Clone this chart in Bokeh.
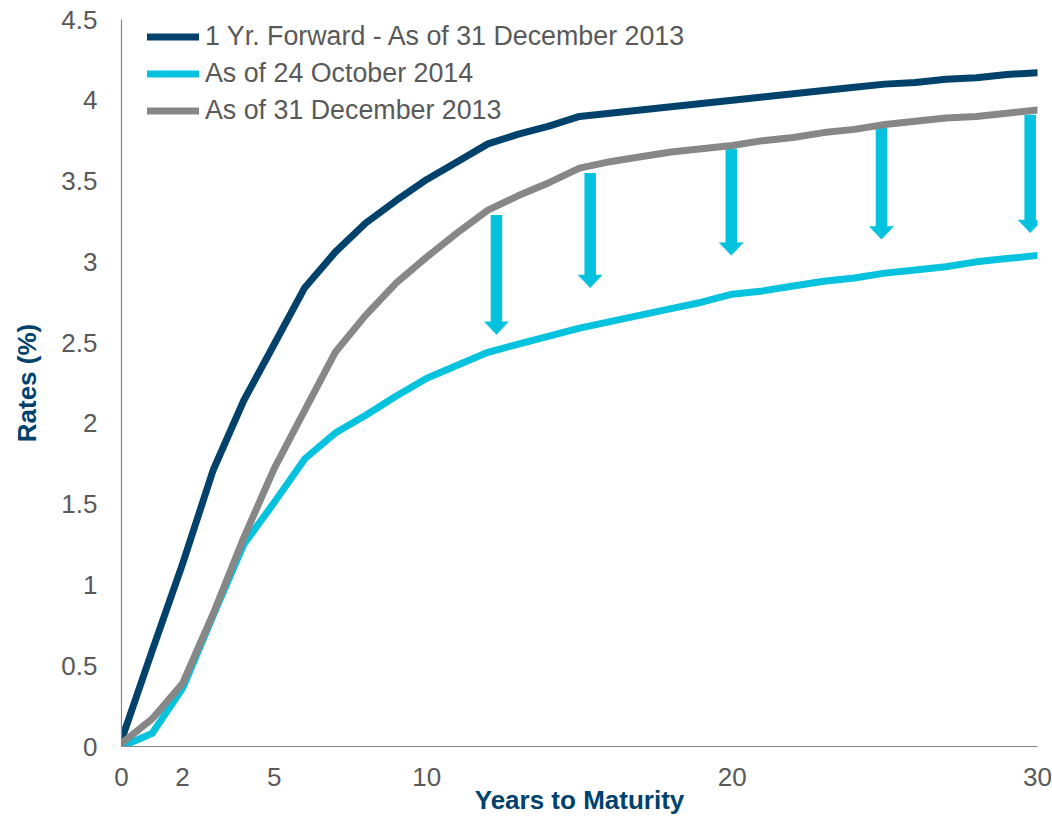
from bokeh.plotting import figure
from bokeh.models import FixedTicker, Legend, LegendItem, ColumnDataSource
from bokeh.embed import file_html
from bokeh.resources import INLINE

# ---- data -------------------------------------------------------------
years = list(range(0, 31))

fwd_2013 = [0.04, 0.59, 1.13, 1.71, 2.14, 2.49, 2.84, 3.06, 3.24, 3.38,
            3.51, 3.62, 3.73, 3.79, 3.84, 3.90, 3.92, 3.94, 3.96, 3.98,
            4.00, 4.02, 4.04, 4.06, 4.08, 4.10, 4.11, 4.13, 4.14, 4.16, 4.17]

oct_2014 = [0.00, 0.08, 0.36, 0.81, 1.25, 1.51, 1.78, 1.94, 2.05, 2.17,
            2.28, 2.36, 2.44, 2.49, 2.54, 2.59, 2.63, 2.67, 2.71, 2.75,
            2.80, 2.82, 2.85, 2.88, 2.90, 2.93, 2.95, 2.97, 3.00, 3.02, 3.04]

dec_2013 = [0.02, 0.17, 0.39, 0.82, 1.29, 1.72, 2.08, 2.44, 2.67, 2.87,
            3.03, 3.18, 3.32, 3.41, 3.49, 3.58, 3.62, 3.65, 3.68, 3.70,
            3.72, 3.75, 3.77, 3.80, 3.82, 3.85, 3.87, 3.89, 3.90, 3.92, 3.94]

series_names = ["1 Yr. Forward - As of 31 December 2013",
                "As of 24 October 2014",
                "As of 31 December 2013"]

# downward arrows: maturity, start (top) and tip (bottom) in rate units
arrow_x = [12.28, 15.35, 19.97, 24.89, 29.76]
arrow_top = [3.29, 3.55, 3.70, 3.83, 3.91]
arrow_tip = [2.55, 2.84, 3.04, 3.14, 3.18]

x_ticks = [0, 2, 5, 10, 20, 30]
y_ticks = [0, 0.5, 1, 1.5, 2, 2.5, 3, 3.5, 4, 4.5]
y_tick_labels = ["0", "0.5", "1", "1.5", "2", "2.5", "3", "3.5", "4", "4.5"]

# ---- styling ----------------------------------------------------------
NAVY = "#00426B"
CYAN = "#05C3DE"
GREY = "#878787"
TEXT = "#595959"
FONT = "Liberation Sans"

X0, X1 = 0, 30
Y0, Y1 = 0, 4.5

p = figure(width=1052, height=817, x_range=(X0, X1), y_range=(Y0, Y1),
           output_backend="svg", toolbar_location=None,
           min_border_left=121, min_border_right=15,
           min_border_top=19, min_border_bottom=71)
p.outline_line_color = None
p.grid.visible = False
p.background_fill_color = "white"
p.border_fill_color = "white"

# axes
for ax in (p.xaxis[0], p.yaxis[0]):
    ax.axis_line_color = "#868686"
    ax.axis_line_width = 1.2
    ax.major_tick_line_color = None
    ax.minor_tick_line_color = None
    ax.major_tick_out = 0
    ax.major_tick_in = 0
    ax.major_label_text_font = FONT
    ax.major_label_text_font_size = "26px"
    ax.major_label_text_color = TEXT
    ax.axis_label_text_font = FONT
    ax.axis_label_text_font_size = "26px"
    ax.axis_label_text_font_style = "bold"
    ax.axis_label_text_color = NAVY

p.xaxis.ticker = FixedTicker(ticks=x_ticks)
p.yaxis.ticker = FixedTicker(ticks=y_ticks)
p.yaxis.major_label_overrides = {t: s for t, s in zip(y_ticks, y_tick_labels)}
p.xaxis.axis_label = "Years to Maturity"
p.yaxis.axis_label = "Rates (%)"
p.xaxis.major_label_standoff = 21
p.xaxis.axis_label_standoff = -4
p.yaxis.major_label_standoff = 24
p.yaxis.axis_label_standoff = 16

# arrows (drawn beneath the curves)
px_per_x = 916.0 / (X1 - X0)
px_per_y = 727.0 / (Y1 - Y0)
head_w = 12.0 / px_per_x      # half width of the head
head_h = 12.7 / px_per_y      # head length
p.segment(x0=arrow_x, y0=arrow_top, x1=arrow_x,
          y1=[t + head_h * 0.9 for t in arrow_tip],
          line_color=CYAN, line_width=11.5, line_cap="butt")
p.patches(xs=[[x - head_w, x + head_w, x] for x in arrow_x],
          ys=[[t + head_h, t + head_h, t] for t in arrow_tip],
          fill_color=CYAN, line_color=CYAN, line_width=0.5)

# curves
src = ColumnDataSource(dict(x=years, fwd=fwd_2013, oct=oct_2014, dec=dec_2013))
r_fwd = p.line("x", "fwd", source=src, line_color=NAVY, line_width=7,
               line_join="round", line_cap="round")
r_oct = p.line("x", "oct", source=src, line_color=CYAN, line_width=7,
               line_join="round", line_cap="round")
r_dec = p.line("x", "dec", source=src, line_color=GREY, line_width=7,
               line_join="round", line_cap="round")

legend = Legend(items=[LegendItem(label=series_names[0], renderers=[r_fwd]),
                       LegendItem(label=series_names[1], renderers=[r_oct]),
                       LegendItem(label=series_names[2], renderers=[r_dec])],
                location=(26, 619), orientation="vertical",
                padding=0, margin=0, spacing=4,
                glyph_width=52, glyph_height=33, label_height=33,
                label_standoff=6,
                label_text_font=FONT, label_text_font_size="26.8px",
                label_text_color=TEXT,
                background_fill_alpha=0, border_line_color=None)
p.add_layout(legend, "center")

open("out.html", "w").write(file_html(p, INLINE))
